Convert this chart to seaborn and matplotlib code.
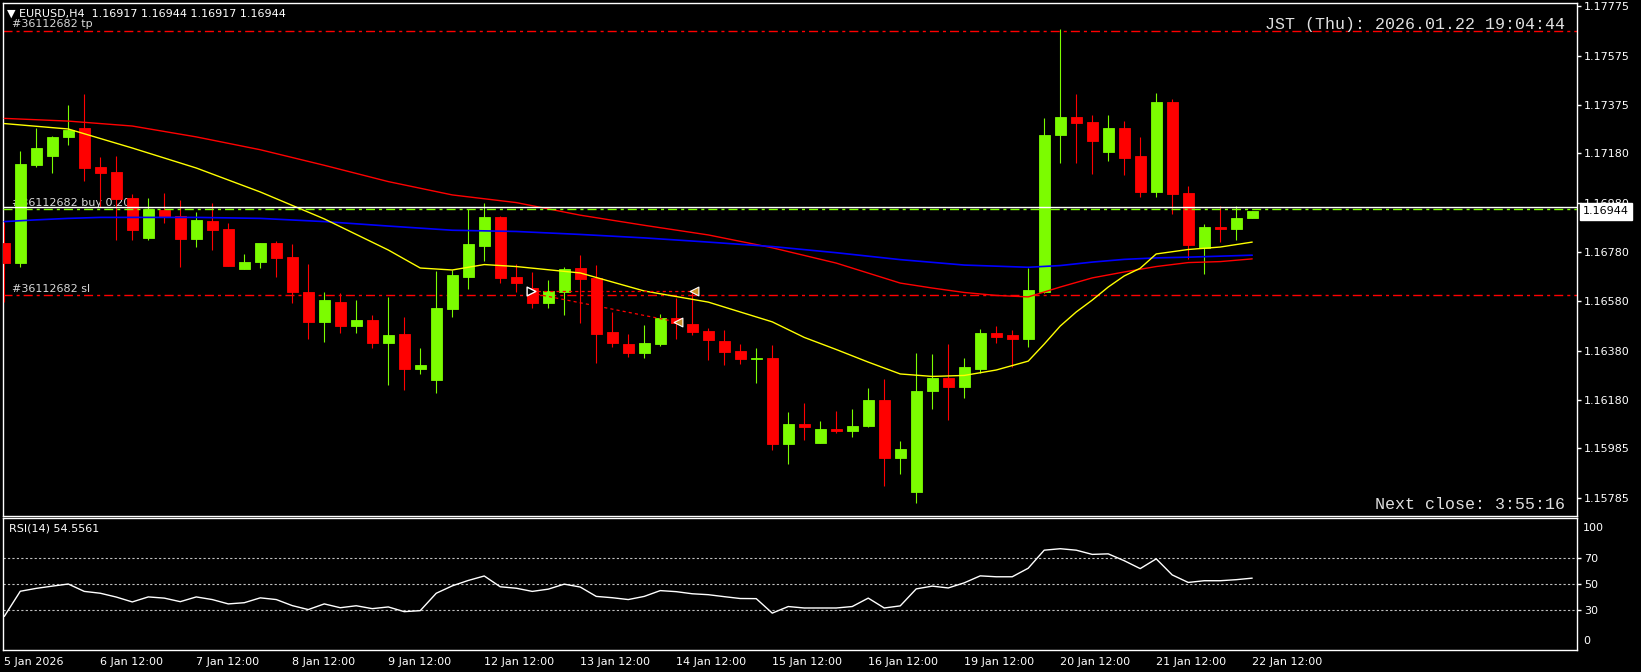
import matplotlib
matplotlib.use("Agg")
import matplotlib.pyplot as plt
import matplotlib.transforms as mtransforms
import numpy as np
import pandas as pd
import seaborn as sns

# ---------------- data ----------------
title_text = "\u25BC EURUSD,H4  1.16917 1.16944 1.16917 1.16944"
clock_text = "JST (Thu): 2026.01.22 19:04:44"
next_close_text = "Next close: 3:55:16"
rsi_title = "RSI(14) 54.5561"
order_id = "#36112682"

date_labels = ["5 Jan 2026", "6 Jan 12:00", "7 Jan 12:00", "8 Jan 12:00", "9 Jan 12:00",
               "12 Jan 12:00", "13 Jan 12:00", "14 Jan 12:00", "15 Jan 12:00", "16 Jan 12:00",
               "19 Jan 12:00", "20 Jan 12:00", "21 Jan 12:00", "22 Jan 12:00"]

opens = [1.16818, 1.16737, 1.17132, 1.17170, 1.17247, 1.17282, 1.17123, 1.17104, 1.16999, 1.16838,
         1.16950, 1.16926, 1.16834, 1.16905, 1.16873, 1.16712, 1.16739, 1.16816, 1.16760, 1.16619,
         1.16498, 1.16577, 1.16481, 1.16505, 1.16413, 1.16448, 1.16307, 1.16263, 1.16549, 1.16680,
         1.16805, 1.16922, 1.16679, 1.16633, 1.16575, 1.16619, 1.16715, 1.16676, 1.16456, 1.16407,
         1.16372, 1.16407, 1.16513, 1.16488, 1.16460, 1.16419, 1.16379, 1.16345, 1.16352, 1.16004,
         1.16083, 1.16008, 1.16063, 1.16056, 1.16075, 1.16181, 1.15947, 1.15809, 1.16218, 1.16271,
         1.16234, 1.16306, 1.16453, 1.16444, 1.16429, 1.16619, 1.17254, 1.17327, 1.17306, 1.17186,
         1.17282, 1.17169, 1.17024, 1.17387, 1.17019, 1.16796, 1.16881, 1.16873, 1.16917]
highs = [1.16903, 1.17189, 1.17281, 1.17250, 1.17375, 1.17420, 1.17163, 1.17169, 1.17015, 1.16997,
         1.17018, 1.16991, 1.16941, 1.16977, 1.16896, 1.16772, 1.16816, 1.16824, 1.16812, 1.16731,
         1.16619, 1.16613, 1.16586, 1.16525, 1.16596, 1.16515, 1.16392, 1.16703, 1.16707, 1.16954,
         1.16977, 1.16925, 1.16731, 1.16700, 1.16667, 1.16720, 1.16768, 1.16727, 1.16538, 1.16448,
         1.16484, 1.16529, 1.16594, 1.16626, 1.16471, 1.16464, 1.16407, 1.16392, 1.16403, 1.16132,
         1.16168, 1.16095, 1.16136, 1.16144, 1.16229, 1.16266, 1.16014, 1.16371, 1.16367, 1.16407,
         1.16351, 1.16468, 1.16480, 1.16464, 1.16714, 1.17321, 1.17682, 1.17420, 1.17335, 1.17335,
         1.17310, 1.17246, 1.17424, 1.17400, 1.17048, 1.16893, 1.16967, 1.16967, 1.16944]
lows = [1.16579, 1.16720, 1.17125, 1.17099, 1.17212, 1.17069, 1.16963, 1.16829, 1.16829, 1.16829,
        1.16896, 1.16720, 1.16801, 1.16788, 1.16724, 1.16712, 1.16716, 1.16680, 1.16575, 1.16426,
        1.16417, 1.16453, 1.16451, 1.16392, 1.16241, 1.16221, 1.16285, 1.16209, 1.16518, 1.16630,
        1.16745, 1.16653, 1.16619, 1.16553, 1.16553, 1.16525, 1.16494, 1.16332, 1.16396, 1.16356,
        1.16352, 1.16399, 1.16428, 1.16444, 1.16343, 1.16322, 1.16326, 1.16251, 1.15978, 1.15923,
        1.16020, 1.16008, 1.16048, 1.16032, 1.16072, 1.15833, 1.15882, 1.15765, 1.16145, 1.16101,
        1.16190, 1.16289, 1.16410, 1.16315, 1.16396, 1.16614, 1.17142, 1.17142, 1.17097, 1.17150,
        1.17093, 1.17004, 1.17004, 1.16935, 1.16753, 1.16691, 1.16822, 1.16829, 1.16917]
closes = [1.16737, 1.17136, 1.17200, 1.17246, 1.17275, 1.17121, 1.17101, 1.16995, 1.16869, 1.16954,
          1.16923, 1.16834, 1.16910, 1.16870, 1.16724, 1.16739, 1.16816, 1.16757, 1.16619, 1.16498,
          1.16586, 1.16481, 1.16505, 1.16413, 1.16443, 1.16307, 1.16322, 1.16553, 1.16687, 1.16812,
          1.16922, 1.16676, 1.16656, 1.16575, 1.16620, 1.16711, 1.16672, 1.16449, 1.16413, 1.16372,
          1.16410, 1.16513, 1.16491, 1.16457, 1.16424, 1.16376, 1.16345, 1.16349, 1.16004, 1.16083,
          1.16072, 1.16063, 1.16056, 1.16075, 1.16181, 1.15947, 1.15982, 1.16217, 1.16270, 1.16234,
          1.16314, 1.16453, 1.16437, 1.16428, 1.16626, 1.17254, 1.17327, 1.17304, 1.17231, 1.17282,
          1.17162, 1.17024, 1.17387, 1.17016, 1.16809, 1.16881, 1.16873, 1.16918, 1.16944]

ma_fast_idx = [0, 4, 8, 12, 16, 20, 24, 26, 28, 30, 32, 36, 40, 44, 48, 50, 52, 54, 56, 58, 60, 62,
               64, 65, 66, 67, 68, 69, 70, 71, 72, 74, 76, 78]
ma_fast = [1.17300, 1.17278, 1.17201, 1.17120, 1.17023, 1.16914, 1.16788, 1.16715, 1.16707, 1.16729,
           1.16721, 1.16695, 1.16622, 1.16577, 1.16497, 1.16434, 1.16385, 1.16334, 1.16286, 1.16276,
           1.16280, 1.16302, 1.16338, 1.16407, 1.16480, 1.16537, 1.16585, 1.16638, 1.16683, 1.16714,
           1.16772, 1.16790, 1.16800, 1.16820]
ma_mid_idx = [0, 4, 8, 12, 16, 20, 24, 28, 32, 36, 40, 44, 48, 52, 56, 58, 60, 62, 64, 66, 68, 70,
              72, 74, 76, 78]
ma_mid = [1.17321, 1.17310, 1.17290, 1.17246, 1.17194, 1.17131, 1.17065, 1.17011, 1.16980, 1.16929,
          1.16888, 1.16849, 1.16797, 1.16735, 1.16654, 1.16634, 1.16616, 1.16604, 1.16598, 1.16638,
          1.16675, 1.16699, 1.16721, 1.16737, 1.16741, 1.16752]
ma_slow_idx = [0, 2, 4, 6, 12, 16, 20, 24, 28, 32, 36, 40, 44, 48, 52, 56, 60, 64, 66, 68, 70, 72,
               74, 76, 78]
ma_slow = [1.16903, 1.16910, 1.16916, 1.16920, 1.16920, 1.16916, 1.16903, 1.16885, 1.16868, 1.16863,
           1.16851, 1.16837, 1.16820, 1.16802, 1.16777, 1.16749, 1.16727, 1.16718, 1.16725, 1.16739,
           1.16750, 1.16756, 1.16759, 1.16763, 1.16767]

rsi = [25.5, 44.6, 46.8, 48.5, 50.1, 44.5, 43.1, 40.2, 36.5, 40.3,
       39.4, 36.7, 40.3, 38.3, 35.0, 35.9, 39.6, 38.3, 33.7, 30.7,
       35.0, 32.1, 33.6, 31.4, 32.7, 29.1, 29.9, 43.1, 48.7, 52.8,
       56.2, 48.0, 46.9, 44.5, 46.2, 50.0, 47.8, 40.7, 39.7, 38.3,
       40.7, 45.1, 44.3, 42.7, 42.0, 40.5, 39.1, 39.0, 28.0, 33.0,
       31.9, 31.9, 31.9, 33.0, 39.4, 31.9, 33.5, 46.4, 48.5, 47.1,
       51.0, 56.3, 55.6, 55.6, 62.1, 75.8, 76.9, 75.8, 72.6, 73.0,
       67.8, 61.8, 69.2, 57.0, 51.3, 52.6, 52.6, 53.4, 54.56]

price_ticks = [1.17775, 1.17575, 1.17375, 1.17180, 1.16980, 1.16780, 1.16580, 1.16380, 1.16180,
               1.15985, 1.15785]
rsi_levels = [30, 50, 70]
rsi_top_label, rsi_bottom_label = "100", "0"

tp_price = 1.17676
sl_price = 1.16605
entry_price = 1.16953
ask_price = 1.16964
bid_price = 1.16944

trade_open_idx = [32.9, 32.9]
trade_open_px = [1.16622, 1.16614]
trade_close_idx = [43.1, 42.1]
trade_close_px = [1.16622, 1.16496]

# ---------------- style ----------------
BULL = "#7CFC00"
BEAR = "#FF0000"
FG = "#FFFFFF"

sns.set_theme(style="dark", rc={
    "axes.facecolor": "black", "figure.facecolor": "black",
    "axes.edgecolor": FG, "axes.grid": False,
    "xtick.color": FG, "ytick.color": FG, "text.color": FG,
})
plt.rcParams["font.family"] = ["DejaVu Sans"]

W, H = 1641, 672
fig = plt.figure(figsize=(W / 100, H / 100), dpi=100)


def px_rect(x0, y0, x1, y1):
    return [x0 / W, 1 - y1 / H, (x1 - x0) / W, (y1 - y0) / H]


ax = fig.add_axes(px_rect(3, 3.3, 1577, 515.7))
ax2 = fig.add_axes(px_rect(3, 518.3, 1577, 650))
XLIM = (-0.08, 98.3)

for a in (ax, ax2):
    a.set_facecolor("black")
    for s in a.spines.values():
        s.set_color(FG)
        s.set_linewidth(1.0)
    a.set_xlim(*XLIM)
    a.set_xlabel("")
    a.set_ylabel("")

# ---------------- candles ----------------
df = pd.DataFrame({"idx": np.arange(len(opens)), "open": opens, "high": highs,
                   "low": lows, "close": closes})
bull = df["close"] >= df["open"]
cols = np.where(bull, BULL, BEAR)
ax.vlines(df["idx"], df["low"], df["high"], colors=cols, lw=0.8, zorder=3)
ax.bar(df["idx"], (df["close"] - df["open"]).abs(),
       bottom=df[["open", "close"]].min(axis=1), width=0.67,
       color=cols, edgecolor=cols, linewidth=0.6, zorder=4)

# moving averages (seaborn)
sns.lineplot(x=ma_mid_idx, y=ma_mid, ax=ax, color="#FF0000", lw=1.0, zorder=5)
sns.lineplot(x=ma_slow_idx, y=ma_slow, ax=ax, color="#0000FF", lw=1.2, zorder=5)
sns.lineplot(x=ma_fast_idx, y=ma_fast, ax=ax, color="#FFFF00", lw=1.0, zorder=6)

# order lines
dashdot = (0, (6.5, 2.9, 2.2, 2.9))
ax.axhline(tp_price, color="#FF0000", lw=1.0, ls=dashdot, zorder=2)
ax.axhline(sl_price, color="#FF0000", lw=1.0, ls=dashdot, zorder=2)
ax.axhline(entry_price, color=BULL, lw=1.0, ls=dashdot, zorder=7)
ax.axhline(ask_price, color=FG, lw=1.0, zorder=7)

for oi, op, ci, cp in zip(trade_open_idx, trade_open_px, trade_close_idx, trade_close_px):
    ax.plot([oi, ci], [op, cp], color="#FF0000", lw=0.9, ls=(0, (2.5, 2.5)), zorder=7)
ax.scatter(trade_open_idx[:1], trade_open_px[:1], marker=">", s=40, facecolor="black",
           edgecolor=FG, linewidths=1.0, zorder=8)
ax.scatter(trade_close_idx, trade_close_px, marker="<", s=40, facecolor="#C8902A",
           edgecolor=FG, linewidths=0.8, zorder=8)

# order labels (behind candles)
trans = mtransforms.blended_transform_factory(ax.transAxes, ax.transData)
off = mtransforms.offset_copy(trans, fig=fig, y=1.0, units="points")
lab_kw = dict(transform=off, va="bottom", ha="left", fontsize=8, color="#D8D8D8", zorder=1)
ax.text(0.006, tp_price, f"{order_id} tp", **lab_kw)
ax.text(0.006, entry_price, f"{order_id} buy 0.20", **lab_kw)
ax.text(0.006, sl_price, f"{order_id} sl", **lab_kw)

# price axis
ax.set_ylim(1.15712, 1.17787)
ax.yaxis.tick_right()
ax.set_yticks(price_ticks)
ax.set_yticklabels([f"{v:.5f}" for v in price_ticks])
ax.tick_params(axis="y", colors=FG, length=3, width=1, pad=2, labelsize=8, direction="out")
ax.set_xticks([])

# current price box
ax.text(1.0038, bid_price, f"{bid_price:.5f}", transform=trans, ha="left", va="center",
        fontsize=8, color="black", clip_on=False, zorder=20,
        bbox=dict(boxstyle="square,pad=0.3", fc="white", ec="white"))

# overlay texts
fig.text(7 / W, 1 - 13.3 / H, title_text, ha="left", va="center", fontsize=8, color=FG)
fig.text(1565 / W, 1 - 25 / H, clock_text, ha="right", va="center", fontsize=12,
         color="#E0E0E0", family="Liberation Mono")
fig.text(1565 / W, 1 - 504.5 / H, next_close_text, ha="right", va="center", fontsize=12,
         color="#E0E0E0", family="Liberation Mono")

# ---------------- RSI ----------------
sns.lineplot(x=np.arange(len(rsi)), y=rsi, ax=ax2, color=FG, lw=1.0, zorder=5)
for lv in rsi_levels:
    ax2.axhline(lv, color="#C0C0C0", lw=0.8, ls=(0, (2, 2)), zorder=2)
ax2.set_ylim(0, 100)
ax2.yaxis.tick_right()
ax2.set_yticks(rsi_levels)
ax2.set_yticklabels([str(v) for v in rsi_levels])
ax2.tick_params(axis="y", colors=FG, length=3, width=1, pad=2, labelsize=8, direction="out")
ax_lab = mtransforms.blended_transform_factory(ax2.transAxes, ax2.transAxes)
ax2.text(1.0038, 0.925, rsi_top_label, transform=ax_lab, ha="left", va="center", fontsize=8,
         color=FG, clip_on=False)
ax2.text(1.0038, 0.07, rsi_bottom_label, transform=ax_lab, ha="left", va="center", fontsize=8,
         color=FG, clip_on=False)
ax2.text(0.0035, 0.925, rsi_title, transform=ax2.transAxes, ha="left", va="center",
         fontsize=8, color=FG)

ax2.set_xticks(list(range(0, 6 * len(date_labels), 6)))
ax2.set_xticklabels(date_labels, ha="left")
ax2.tick_params(axis="x", colors=FG, length=3, width=1, pad=2, labelsize=8, direction="out")
ax2.set_xlim(*XLIM)
ax.set_xlim(*XLIM)

fig.savefig("out.png", dpi=100, facecolor="black")
